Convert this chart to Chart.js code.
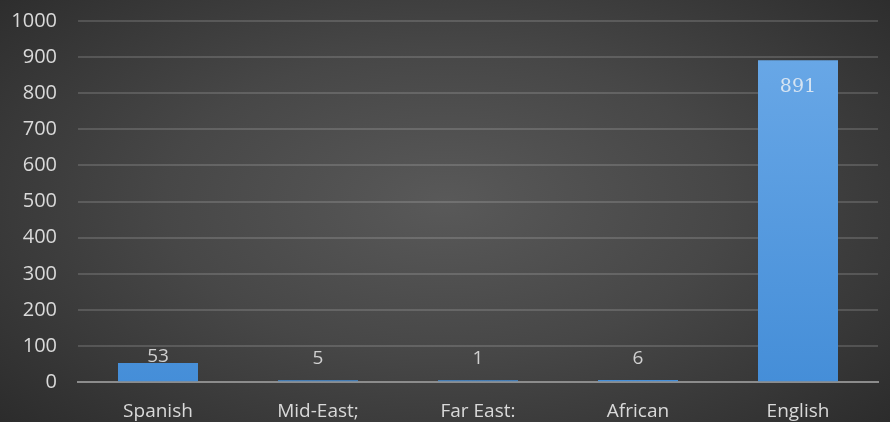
<!DOCTYPE html>
<html>
<head>
<meta charset="utf-8">
<script src="https://cdn.jsdelivr.net/npm/chart.js@4"></script>
<style>
  html, body { margin: 0; padding: 0; overflow: hidden; }
  body {
    width: 890px; height: 422px;
    background: radial-gradient(ellipse 70% 80% at 50% 48%, #595959 0%, #474747 45%, #2a2a2a 100%);
  }
  #wrap { position: relative; width: 890px; height: 441px; }
</style>
</head>
<body>
<div id="wrap"><canvas id="langChart" width="890" height="441"></canvas></div>
<script>
const categories = ['Spanish', 'Mid-East;', 'Far East:', 'African', 'English'];
const counts = [53, 5, 1, 6, 891];
const yTicks = [0, 100, 200, 300, 400, 500, 600, 700, 800, 900, 1000];

// draws the value labels, Excel style
const valueLabels = {
    id: 'valueLabels',
    afterDatasetsDraw(chart) {
        const ctx = chart.ctx;
        const meta = chart.getDatasetMeta(0);
        const base = chart.scales.y.getPixelForValue(0);
        ctx.save();
        ctx.textAlign = 'center';
        ctx.textBaseline = 'middle';
        meta.data.forEach((bar, i) => {
            const v = counts[i];
            if (v > 500) {
                ctx.font = '19px "DejaVu Serif", serif';
                ctx.fillStyle = '#d6e4f2';
                ctx.fillText(v, bar.x, bar.y + 27);
            } else {
                ctx.font = '19px "Open Sans", sans-serif';
                ctx.fillStyle = '#d0d0d0';
                ctx.fillText(v, bar.x, Math.min(bar.y - 6, base - 24));
            }
        });
        ctx.restore();
    }
};

const ctx = document.getElementById('langChart').getContext('2d');
new Chart(ctx, {
    type: 'bar',
    data: {
        labels: categories,
        datasets: [{
            label: 'Count',
            data: counts,
            backgroundColor: (c) => {
                const area = c.chart.chartArea;
                if (!area) return '#4f96e0';
                const g = c.chart.ctx.createLinearGradient(0, area.top, 0, area.bottom);
                g.addColorStop(0, '#6caae8');
                g.addColorStop(1, '#458ed8');
                return g;
            },
            borderWidth: 0,
            minBarLength: 2,
            barPercentage: 0.5,
            categoryPercentage: 1.0
        }]
    },
    options: {
        responsive: false,
        animation: false,
        devicePixelRatio: 1,
        layout: { padding: { left: 12, right: 12, top: 0, bottom: 0 } },
        plugins: { legend: { display: false }, tooltip: { enabled: false } },
        scales: {
            x: {
                grid: { display: false, drawTicks: false },
                border: { color: '#8c8c8c', width: 2 },
                ticks: { color: '#d9d9d9', font: { family: 'Open Sans', size: 19 }, padding: 18, maxRotation: 0, autoSkip: false }
            },
            y: {
                min: 0, max: 1000,
                afterBuildTicks: (axis) => { axis.ticks = yTicks.map(v => ({ value: v })); },
                afterFit: (axis) => {
                    axis.width = 66;
                    axis.paddingTop = 21;
                    axis.paddingBottom = 0;
                },
                grid: {
                    color: (c) => c.tick && c.tick.value === 0 ? 'rgba(0,0,0,0)' : 'rgba(255,255,255,0.15)',
                    lineWidth: 2, drawTicks: false
                },
                border: { display: false },
                ticks: {
                    color: '#d9d9d9', font: { family: 'Open Sans', size: 20 }, padding: 21, autoSkip: false,
                    callback: (v) => String(v)
                }
            }
        }
    },
    plugins: [valueLabels]
});
</script>
</body>
</html>
